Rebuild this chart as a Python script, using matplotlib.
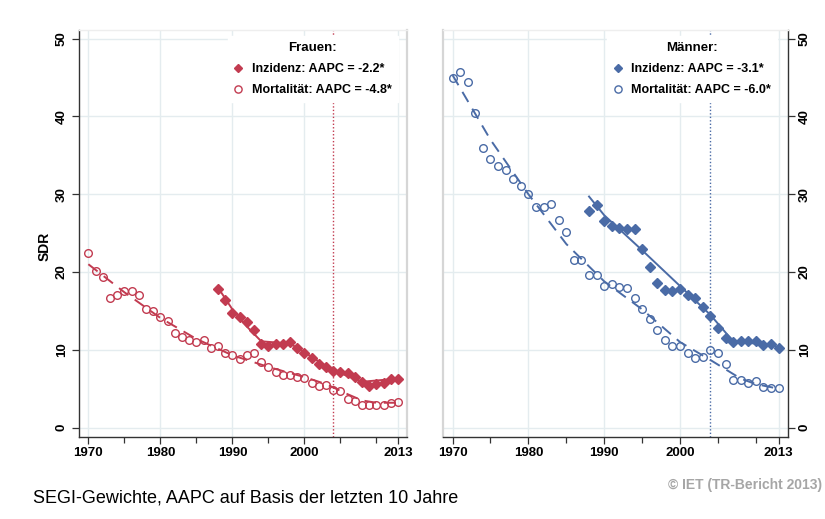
import matplotlib
matplotlib.use('Agg')
import matplotlib.pyplot as plt
from matplotlib.lines import Line2D

plt.rcParams['font.family'] = ['Liberation Sans', 'DejaVu Sans']

# ---------------- data ----------------
years = list(range(1970, 2014))
inc_years = list(range(1988, 2014))

f_mort = [22.5, 20.1, 19.3, 16.7, 17.1, 17.5, 17.5, 17.0, 15.3, 15.0,
          14.2, 13.7, 12.2, 11.7, 11.25, 11.0, 11.25, 10.2, 10.5, 9.6,
          9.3, 8.8, 9.3, 9.6, 8.4, 7.85, 7.15, 6.8, 6.8, 6.5,
          6.4, 5.7, 5.3, 5.45, 4.9, 4.7, 3.7, 3.45, 2.95, 2.95,
          2.85, 2.85, 3.2, 3.3]
f_inc = [17.8, 16.4, 14.7, 14.2, 13.55, 12.6, 10.7, 10.5, 10.75, 10.75, 11.0, 10.3,
         9.6, 8.9, 8.2, 7.75, 7.25, 7.2, 7.0, 6.5, 5.9, 5.4, 5.65, 5.7, 6.3, 6.3]
m_mort = [44.9, 45.75, 44.4, 40.4, 35.9, 34.5, 33.6, 33.1, 32.0, 31.1,
          30.05, 28.3, 28.3, 28.7, 26.7, 25.2, 21.5, 21.5, 19.65, 19.6,
          18.2, 18.4, 18.1, 18.0, 16.7, 15.3, 14.0, 12.5, 11.3, 10.55,
          10.5, 9.65, 9.0, 9.05, 10.0, 9.65, 8.2, 6.1, 6.1, 5.8,
          5.95, 5.25, 5.15, 5.15]
m_inc = [27.8, 28.6, 26.5, 25.95, 25.65, 25.55, 25.5, 23.0, 20.6, 18.6, 17.75, 17.6,
         17.85, 17.0, 16.7, 15.5, 14.35, 12.85, 11.55, 11.0, 11.2, 11.1, 11.1, 10.6, 10.75, 10.25]

# fitted trend lines
f_mort_trend_years = [1970, 1975, 1980, 1985, 1990, 1995, 2000, 2003, 2006, 2008, 2010, 2013]
f_mort_trend = [21.0, 17.4, 14.1, 11.4, 9.3, 7.8, 6.5, 5.6, 4.3, 3.5, 3.2, 3.2]
f_inc_trend_years = [1988, 1990, 1992, 1994, 1998, 2000, 2003, 2005, 2008, 2013]
f_inc_trend = [18.0, 15.2, 13.0, 11.1, 10.8, 9.7, 7.9, 7.0, 5.9, 6.3]
m_mort_trend_years = [1970, 1975, 1980, 1985, 1990, 1995, 2000, 2004, 2008, 2010, 2013]
m_mort_trend = [45.3, 37.0, 30.0, 23.6, 18.8, 15.2, 11.0, 8.7, 6.3, 5.6, 5.0]
m_inc_trend_years = [1988, 1990, 1995, 2000, 2004, 2007, 2010, 2013]
m_inc_trend = [29.7, 27.3, 22.8, 18.2, 14.5, 11.1, 10.8, 10.4]

ref_year = 2004
x_major = [1970, 1980, 1990, 2000, 2013]
x_minor = [1975, 1985, 1995, 2005, 2010]
y_ticks = [0, 10, 20, 30, 40, 50]

f_title = "Frauen:"
f_labels = ["Inzidenz: AAPC = -2.2*", "Mortalität: AAPC = -4.8*"]
m_title = "Männer:"
m_labels = ["Inzidenz: AAPC = -3.1*", "Mortalität: AAPC = -6.0*"]

RED = '#c23b50'
BLUE = '#4a6ba6'
GRID = '#e4ecef'
BORDER = '#d6d6d6'
DARK = '#333333'

W, H = 825, 519
fig = plt.figure(figsize=(W / 100, H / 100), dpi=100)
fig.patch.set_facecolor('white')


def px_axes(x0, x1, ytop, ybot):
    return fig.add_axes([x0 / W, (H - ybot) / H, (x1 - x0) / W, (ybot - ytop) / H])


axL = px_axes(79, 406.7, 30, 437)
axR = px_axes(442.7, 787.7, 30, 437)

tickfont = dict(fontsize=9.5, fontweight='bold')


def setup(ax, color, side):
    ax.set_xlim(1968.7, 2014.2)
    ax.set_ylim(-1.2, 51.1)
    ax.set_xticks(x_major)
    ax.set_xticks(x_minor, minor=True)
    ax.set_xticklabels([str(v) for v in x_major], **tickfont)
    ax.set_yticks(y_ticks)
    ax.set_yticklabels([str(v) for v in y_ticks], rotation=90, va='center', **tickfont)
    ax.grid(True, which='major', color=GRID, linewidth=1.0, zorder=0)
    ax.set_axisbelow(True)
    ax.tick_params(axis='x', which='major', length=5, width=0.9, color=DARK, pad=2)
    ax.tick_params(axis='x', which='minor', length=4, width=0.9, color=DARK)
    ax.tick_params(axis='y', length=5, width=0.9, color=DARK, pad=3)
    for s in ax.spines.values():
        s.set_linewidth(1.0)
    ax.spines['bottom'].set_color(DARK)
    ax.spines['top'].set_color('#eeeeee')
    if side == 'left':
        ax.spines['left'].set_color(DARK)
        ax.spines['right'].set_color(BORDER)
        ax.spines['right'].set_linewidth(1.6)
    else:
        ax.yaxis.tick_right()
        ax.spines['right'].set_color(DARK)
        ax.spines['left'].set_color(BORDER)
        ax.spines['left'].set_linewidth(1.6)
    ax.axvline(ref_year, color=color, linestyle=(0, (1, 1.5)), linewidth=1.0, zorder=1)


def draw(ax, color, mort, inc, mty, mt, ity, it):
    ax.plot(mty, mt, color=color, linewidth=1.4, linestyle=(0, (6, 4)), zorder=2)
    ax.plot(ity, it, color=color, linewidth=1.4, linestyle='-', zorder=2)
    ax.plot(inc_years, inc, linestyle='none', marker='D', markersize=5.0,
            color=color, markeredgecolor=color, zorder=3)
    ax.plot(years, mort, linestyle='none', marker='o', markersize=5.5,
            markerfacecolor='none', markeredgecolor=color, markeredgewidth=1.0, zorder=3)
    handles = [Line2D([], [], linestyle='none', marker='D', markersize=4.5, color=color),
               Line2D([], [], linestyle='none', marker='o', markersize=5.2,
                      markerfacecolor='none', markeredgecolor=color, markeredgewidth=1.0)]
    return handles


hL = draw(axL, RED, f_mort, f_inc, f_mort_trend_years, f_mort_trend,
          f_inc_trend_years, f_inc_trend)
hR = draw(axR, BLUE, m_mort, m_inc, m_mort_trend_years, m_mort_trend,
          m_inc_trend_years, m_inc_trend)

setup(axL, RED, 'left')
setup(axR, BLUE, 'right')

legprops = dict(size=9, weight='bold')
for ax, h, labels, title, anchor in [(axL, hL, f_labels, f_title, (0.972, 0.985)),
                                     (axR, hR, m_labels, m_title, (0.968, 0.985))]:
    leg = ax.legend(h, labels, title=title, loc='upper right', bbox_to_anchor=anchor,
                    prop=legprops, title_fontproperties=dict(size=9.5, weight='bold'),
                    frameon=True, fancybox=False, facecolor='white', edgecolor='white',
                    framealpha=1.0, borderpad=0.45, labelspacing=0.75,
                    handlelength=0.8, handletextpad=0.7, borderaxespad=0)
    leg.set_zorder(5)

fig.text(45 / W, 1 - 246 / H, "SDR", rotation=90, ha='center', va='center',
         fontsize=10, fontweight='bold')
fig.text(33 / W, 1 - 498 / H, "SEGI-Gewichte, AAPC auf Basis der letzten 10 Jahre",
         ha='left', va='center', fontsize=13)
fig.text(822 / W, 1 - 485 / H, "© IET (TR-Bericht 2013)", ha='right', va='center',
         fontsize=10, fontweight='bold', color='#a6a6a6')

fig.savefig('out.png', dpi=100, facecolor='white')
